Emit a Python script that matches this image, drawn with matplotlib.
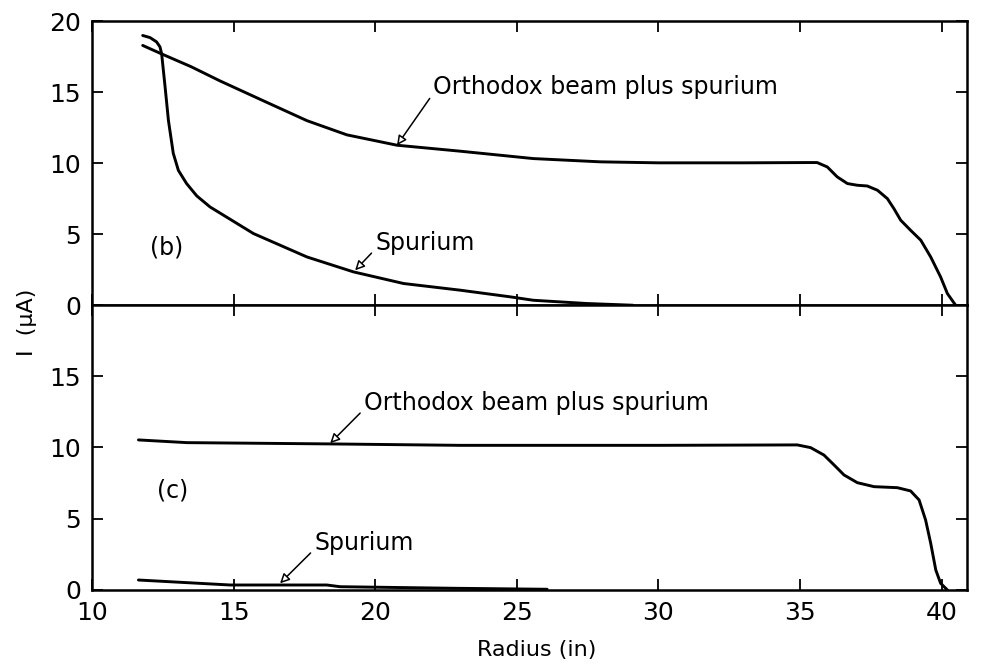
import matplotlib
matplotlib.use("Agg")
import matplotlib.pyplot as plt

# panel (b): beam current vs radius
b_total_x = [11.79, 12.46, 13.5, 14.52, 16.05, 17.59, 19.0, 20.77, 23.0, 25.58, 27.95, 30.0,
             33.0, 35.3, 35.6, 35.96, 36.31, 36.67, 37.02, 37.37, 37.73, 38.08, 38.31,
             38.55, 38.9, 39.26, 39.61, 39.96, 40.2, 40.49]
b_total_y = [18.3, 17.7, 16.8, 15.8, 14.4, 13.0, 12.0, 11.27, 10.85, 10.33, 10.1, 10.03,
             10.03, 10.05, 10.05, 9.74, 9.04, 8.57, 8.45, 8.4, 8.1, 7.51, 6.81,
             5.99, 5.28, 4.58, 3.4, 1.99, 0.82, 0.0]

b_spur_x = [11.79, 12.05, 12.28, 12.4, 12.46, 12.58, 12.7, 12.87, 13.05, 13.34, 13.7, 14.17,
            15.7, 17.59, 19.23, 21.0, 23.0, 24.77, 25.58, 27.48, 29.1]
b_spur_y = [19.0, 18.85, 18.55, 18.2, 17.7, 15.4, 13.0, 10.7, 9.5, 8.57, 7.7, 6.92,
            5.05, 3.4, 2.35, 1.53, 1.06, 0.59, 0.35, 0.12, 0.0]

# panel (c)
c_total_x = [11.64, 13.35, 18.41, 23.0, 30.0, 34.9, 35.37, 35.84, 36.2, 36.55, 37.02,
             37.61, 38.43, 38.9, 39.2, 39.43, 39.61, 39.79, 39.96, 40.2]
c_total_y = [10.53, 10.34, 10.25, 10.15, 10.15, 10.18, 9.99, 9.47, 8.77, 8.07, 7.53,
             7.25, 7.18, 6.95, 6.32, 4.91, 3.28, 1.4, 0.47, 0.0]

c_spur_x = [11.64, 14.88, 18.29, 18.76, 22.77, 26.07]
c_spur_y = [0.7, 0.35, 0.35, 0.23, 0.12, 0.05]

x_ticks = [10, 15, 20, 25, 30, 35, 40]
y_ticks_b = [0, 5, 10, 15, 20]
y_ticks_c = [0, 5, 10, 15]

FS = 18
fig = plt.figure(figsize=(9.89, 6.65), dpi=100)
ax_b = fig.add_axes([0.093, 0.541, 0.885, 0.427])
ax_c = fig.add_axes([0.093, 0.1128, 0.885, 0.4286])

arrow = dict(arrowstyle="-|>", lw=1.1, color="black", fc="white", mutation_scale=14,
             shrinkA=1, shrinkB=0, relpos=(0, 0.25))

for ax in (ax_b, ax_c):
    ax.set_xlim(10, 40.9)
    ax.set_ylim(0, 20)
    ax.set_xticks(x_ticks)
    ax.tick_params(direction="in", length=8, width=1.3, top=True, right=True,
                   labelsize=FS, pad=8)
    for s in ax.spines.values():
        s.set_linewidth(1.8)

ax_b.set_yticks(y_ticks_b)
ax_b.tick_params(labelbottom=False)
ax_c.set_yticks(y_ticks_c)

for ax, xs, ys in [(ax_b, b_total_x, b_total_y), (ax_b, b_spur_x, b_spur_y),
                   (ax_c, c_total_x, c_total_y), (ax_c, c_spur_x, c_spur_y)]:
    ax.plot(xs, ys, color="black", lw=2.1, solid_joinstyle="round", solid_capstyle="round")

ax_b.annotate("Orthodox beam plus spurium", xy=(20.77, 11.27), xytext=(22.05, 15.35),
              fontsize=17, va="center", ha="left", arrowprops=arrow)
ax_b.annotate("Spurium", xy=(19.29, 2.46), xytext=(20.0, 4.37),
              fontsize=17, va="center", ha="left", arrowprops=arrow)
ax_b.text(12.64, 4.1, "(b)", fontsize=17, ha="center", va="center")

ax_c.annotate("Orthodox beam plus spurium", xy=(18.41, 10.3), xytext=(19.6, 13.1),
              fontsize=17, va="center", ha="left", arrowprops=arrow)
ax_c.annotate("Spurium", xy=(16.64, 0.47), xytext=(17.85, 3.28),
              fontsize=17, va="center", ha="left", arrowprops=arrow)
ax_c.text(12.84, 7.0, "(c)", fontsize=17, ha="center", va="center")

fig.text(537 / 989, 1 - 650 / 665, "Radius (in)", fontsize=16, ha="center", va="center")
fig.text(27 / 989, 1 - 322 / 665, "I  (μA)", fontsize=16, ha="center", va="center",
         rotation=90)

fig.savefig("out.png", dpi=100)
